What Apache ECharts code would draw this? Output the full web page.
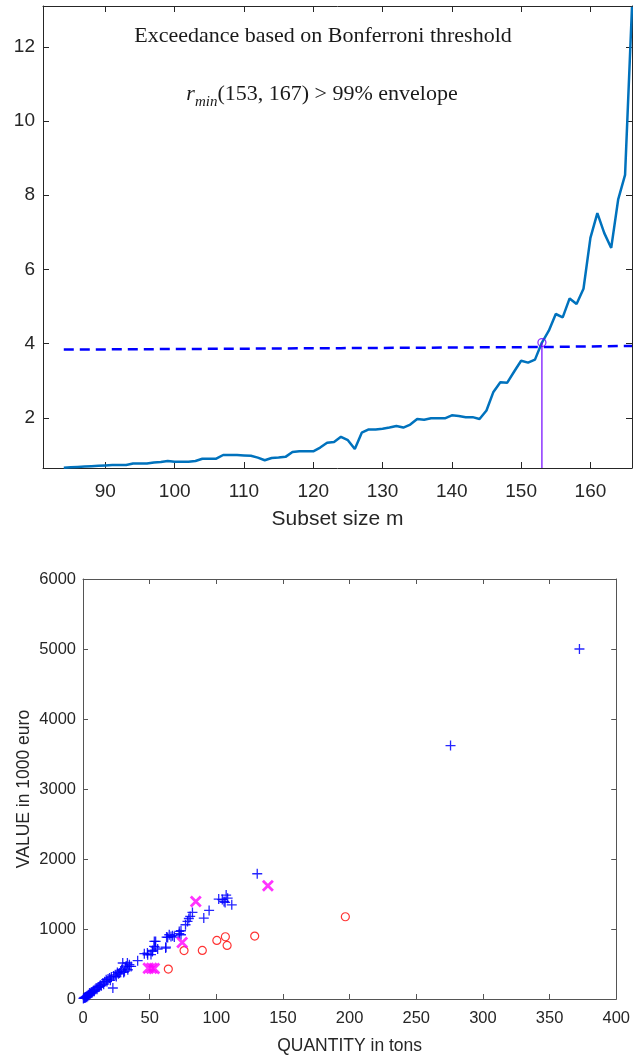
<!DOCTYPE html>
<html>
<head>
<meta charset="utf-8">
<script src="https://cdn.jsdelivr.net/npm/echarts@6/dist/echarts.min.js"></script>
<style>
  html, body { margin: 0; padding: 0; background: #fff; }
  #chart { width: 633px; height: 1057px; }
</style>
</head>
<body>
<div id="chart"></div>
<script>
// ---- Upper panel: minimum deletion residual along the forward search ----
const subsetSize = [84, 85, 86, 87, 88, 89, 90, 91, 92, 93, 94, 95, 96, 97, 98, 99,
  100, 101, 102, 103, 104, 105, 106, 107, 108, 109, 110, 111, 112, 113, 114, 115,
  116, 117, 118, 119, 120, 121, 122, 123, 124, 125, 126, 127, 128, 129, 130, 131,
  132, 133, 134, 135, 136, 137, 138, 139, 140, 141, 142, 143, 144, 145, 146, 147,
  148, 149, 150, 151, 152, 153, 154, 155, 156, 157, 158, 159, 160, 161, 162, 163,
  164, 165, 166];
const minResidual = [0.66, 0.67, 0.68, 0.69, 0.70, 0.71, 0.72, 0.73, 0.73, 0.73, 0.77, 0.77, 0.77, 0.80, 0.81, 0.84,
  0.82, 0.82, 0.82, 0.84, 0.90, 0.90, 0.90, 1.00, 1.00, 1.00, 0.99, 0.98, 0.93, 0.86, 0.92, 0.93,
  0.95, 1.08, 1.10, 1.10, 1.10, 1.20, 1.33, 1.35, 1.49, 1.40, 1.16, 1.60, 1.69, 1.69, 1.71, 1.74,
  1.78, 1.74, 1.82, 1.97, 1.95, 1.99, 1.99, 1.99, 2.07, 2.05, 2.02, 2.02, 1.97, 2.20, 2.70, 2.96,
  2.95, 3.25, 3.54, 3.49, 3.57, 4.03, 4.35, 4.80, 4.71, 5.22, 5.07, 5.48, 6.85, 7.52, 6.98, 6.58,
  7.88, 8.55, 13.08];
// 99% Bonferroni envelope (almost flat)
const envelopeM = [84, 124, 153, 166];
const envelopeValue = [3.84, 3.88, 3.91, 3.94];
// first exceedance
const signalM = 153;
const signalValue = 4.03;
const upperXTicks = [90, 100, 110, 120, 130, 140, 150, 160];
const upperYTicks = [2, 4, 6, 8, 10, 12];

// ---- Lower panel: VALUE against QUANTITY ----
const normalUnits = [
  [0.3, 8], [0.8, 15], [1.2, 22], [1.6, 14], [2.0, 30], [2.5, 37], [2.8, 25], [3.2, 48],
  [3.6, 40], [4.0, 60], [4.5, 55], [4.9, 86], [5.3, 70], [5.8, 82], [6.2, 95], [6.8, 88],
  [7.4, 108], [7.9, 120], [8.5, 112], [9.0, 135], [9.9, 157], [10.5, 140], [11.0, 165],
  [11.8, 172], [12.4, 180], [13.0, 198], [13.8, 190], [14.9, 228], [15.5, 210], [16.2, 245],
  [17.4, 276], [18.0, 250], [18.8, 285], [19.9, 300], [20.5, 268], [21.3, 315], [22.4, 157],
  [23.0, 330], [24.2, 345], [25.0, 320], [25.8, 380], [26.6, 360], [27.4, 371], [28.2, 400],
  [29.0, 420], [29.8, 514], [30.5, 380], [31.1, 394], [32.0, 442], [32.4, 470], [33.3, 514],
  [33.6, 418], [34.6, 466], [34.8, 490], [36.1, 466], [41.0, 547],
  [46.0, 647], [48.3, 656], [48.5, 632], [51.0, 634], [52.0, 680], [52.3, 694], [53.3, 751],
  [53.5, 822], [54.3, 742], [54.5, 822], [56.0, 714], [62.0, 728], [62.2, 742], [62.7, 885],
  [63.5, 880], [64.7, 918], [66.0, 894], [67.2, 904], [68.5, 885], [72.2, 932], [72.2, 965],
  [73.5, 975], [73.5, 918], [76.9, 1061], [78.4, 1108], [79.4, 1150], [80.4, 1180], [82.1, 1237],
  [90.6, 1156], [94.6, 1265], [101.8, 1428], [104.5, 1420], [105.8, 1393], [106.6, 1379],
  [107.4, 1484], [108.5, 1440], [111.6, 1346], [130.7, 1789], [275.7, 3620], [372.4, 5000]
];
const lowPriceUnits = [
  [64.0, 428], [75.8, 692], [89.5, 694], [100.4, 837], [106.8, 889], [108.1, 765],
  [128.8, 899], [196.8, 1175]
];
const flaggedUnits = [
  [49.0, 440], [51.5, 440], [53.5, 435], [74.4, 808], [84.6, 1393], [138.7, 1617]
];

const ink = '#262626';
const frame = '#555555';
const sans = '"Liberation Sans", Arial, sans-serif';
const serif = '"Liberation Serif", "Times New Roman", serif';

const plusPath = 'path://M5,0L5,10M0,5L10,5';
const crossPath = 'path://M0,0L10,10M10,0L0,10';
const plainNumber = v => String(v);

function boxAxis(extra) {
  return Object.assign({
    type: 'value',
    splitLine: { show: false },
    axisLine: { show: true, onZero: false, lineStyle: { color: ink, width: 1 } },
    axisTick: { show: true, inside: true, length: 6, lineStyle: { color: ink, width: 1 } },
    axisLabel: { show: true, color: ink, fontFamily: sans }
  }, extra);
}

const upperX = {
  gridIndex: 0, min: 81, max: 166,
  axisTick: { show: true, inside: true, length: 6, customValues: upperXTicks, lineStyle: { color: ink } },
  axisLabel: { show: true, color: ink, fontFamily: sans, fontSize: 19, margin: 14, customValues: upperXTicks }
};
const upperY = {
  gridIndex: 0, min: 0.65, max: 13.1,
  axisTick: { show: true, inside: true, length: 6, customValues: upperYTicks, lineStyle: { color: ink } },
  axisLabel: { show: true, color: ink, fontFamily: sans, fontSize: 19, margin: 8, customValues: upperYTicks }
};
const lowerTick = { show: true, inside: true, length: 5, lineStyle: { color: frame } };
const lowerLine = { show: true, onZero: false, lineStyle: { color: frame, width: 1 } };

const option = {
  animation: false,
  backgroundColor: '#ffffff',
  grid: [
    { left: 43, top: 6, width: 589, height: 462 },
    { left: 83, top: 579, width: 535, height: 420 }
  ],
  xAxis: [
    boxAxis(Object.assign({}, upperX, {
      position: 'bottom',
      name: 'Subset size m', nameLocation: 'middle', nameGap: 41,
      nameTextStyle: { color: ink, fontFamily: sans, fontSize: 21 }
    })),
    boxAxis(Object.assign({}, upperX, {
      position: 'top',
      axisLabel: { show: false, customValues: upperXTicks }
    })),
    boxAxis({
      gridIndex: 1, min: 0, max: 400, interval: 50, position: 'bottom',
      axisTick: lowerTick, axisLine: lowerLine,
      axisLabel: { color: ink, fontFamily: sans, fontSize: 16.5, margin: 11, formatter: plainNumber },
      name: 'QUANTITY in tons', nameLocation: 'middle', nameGap: 38,
      nameTextStyle: { color: ink, fontFamily: sans, fontSize: 17.5 }
    }),
    boxAxis({
      gridIndex: 1, min: 0, max: 400, interval: 50, position: 'top',
      axisTick: lowerTick, axisLine: lowerLine,
      axisLabel: { show: false }
    })
  ],
  yAxis: [
    boxAxis(Object.assign({}, upperY, { position: 'left' })),
    boxAxis(Object.assign({}, upperY, {
      position: 'right',
      axisLabel: { show: false, customValues: upperYTicks }
    })),
    boxAxis({
      gridIndex: 1, min: 0, max: 6000, interval: 1000, position: 'left',
      axisTick: lowerTick, axisLine: lowerLine,
      axisLabel: { color: ink, fontFamily: sans, fontSize: 16.5, margin: 7, formatter: plainNumber },
      name: 'VALUE in 1000 euro', nameLocation: 'middle', nameGap: 50, nameMoveOverlap: false,
      nameTextStyle: { color: ink, fontFamily: sans, fontSize: 17.5 }
    }),
    boxAxis({
      gridIndex: 1, min: 0, max: 6000, interval: 1000, position: 'right',
      axisTick: lowerTick, axisLine: lowerLine,
      axisLabel: { show: false }
    })
  ],
  graphic: [
    {
      type: 'text', x: 323, y: 36, silent: true,
      style: {
        text: 'Exceedance based on Bonferroni threshold',
        fontFamily: serif, fontSize: 22, fill: '#1a1a1a',
        align: 'center', verticalAlign: 'middle',
        textAlign: 'center', textVerticalAlign: 'middle'
      }
    },
    {
      type: 'text', x: 322, y: 94.4, silent: true,
      style: {
        text: '{r|r}{s|min}{t|(153, 167) > 99% envelope}',
        fill: '#1a1a1a',
        align: 'center', verticalAlign: 'middle',
        textAlign: 'center', textVerticalAlign: 'middle',
        rich: {
          r: { fontFamily: serif, fontSize: 22, fontStyle: 'italic', lineHeight: 30, verticalAlign: 'middle', fill: '#1a1a1a' },
          s: { fontFamily: serif, fontSize: 15, fontStyle: 'italic', lineHeight: 15, verticalAlign: 'bottom', fill: '#1a1a1a' },
          t: { fontFamily: serif, fontSize: 22, lineHeight: 30, verticalAlign: 'middle', fill: '#1a1a1a' }
        }
      }
    }
  ],
  series: [
    {
      name: 'minimum deletion residual',
      type: 'line', xAxisIndex: 0, yAxisIndex: 0,
      data: subsetSize.map((m, i) => [m, minResidual[i]]),
      symbol: 'none', showSymbol: false,
      lineStyle: { color: '#0072BD', width: 2.5 },
      z: 3
    },
    {
      name: '99% envelope',
      type: 'line', xAxisIndex: 0, yAxisIndex: 0,
      data: envelopeM.map((m, i) => [m, envelopeValue[i]]),
      symbol: 'none', showSymbol: false,
      lineStyle: { color: '#0000ff', width: 2.5, type: [10, 6] },
      z: 4
    },
    {
      name: 'signal drop line',
      type: 'line', xAxisIndex: 0, yAxisIndex: 0,
      data: [[signalM, 0.65], [signalM, signalValue]],
      symbol: 'none', showSymbol: false,
      lineStyle: { color: '#7000ff', width: 1.2 },
      z: 5
    },
    {
      name: 'signal',
      type: 'scatter', xAxisIndex: 0, yAxisIndex: 0,
      data: [[signalM, signalValue]],
      symbol: 'circle', symbolSize: 8,
      itemStyle: { color: 'none', borderColor: '#7000ff', borderWidth: 1.3 },
      z: 6
    },
    {
      name: 'units',
      type: 'scatter', xAxisIndex: 2, yAxisIndex: 2,
      data: normalUnits,
      symbol: plusPath, symbolSize: 10,
      itemStyle: { color: 'none', borderColor: '#0000ff', borderWidth: 1.3, opacity: 0.85 },
      z: 3
    },
    {
      name: 'low price units',
      type: 'scatter', xAxisIndex: 2, yAxisIndex: 2,
      data: lowPriceUnits,
      symbol: 'circle', symbolSize: 8,
      itemStyle: { color: 'none', borderColor: '#ff0000', borderWidth: 1.2 },
      z: 4
    },
    {
      name: 'flagged units',
      type: 'scatter', xAxisIndex: 2, yAxisIndex: 2,
      data: flaggedUnits,
      symbol: crossPath, symbolSize: 10,
      itemStyle: { color: 'none', borderColor: '#ff00ff', borderWidth: 2.8 },
      z: 5
    }
  ]
};

const chart = echarts.init(document.getElementById('chart'), null, { renderer: 'canvas' });
chart.setOption(option);
</script>
</body>
</html>
